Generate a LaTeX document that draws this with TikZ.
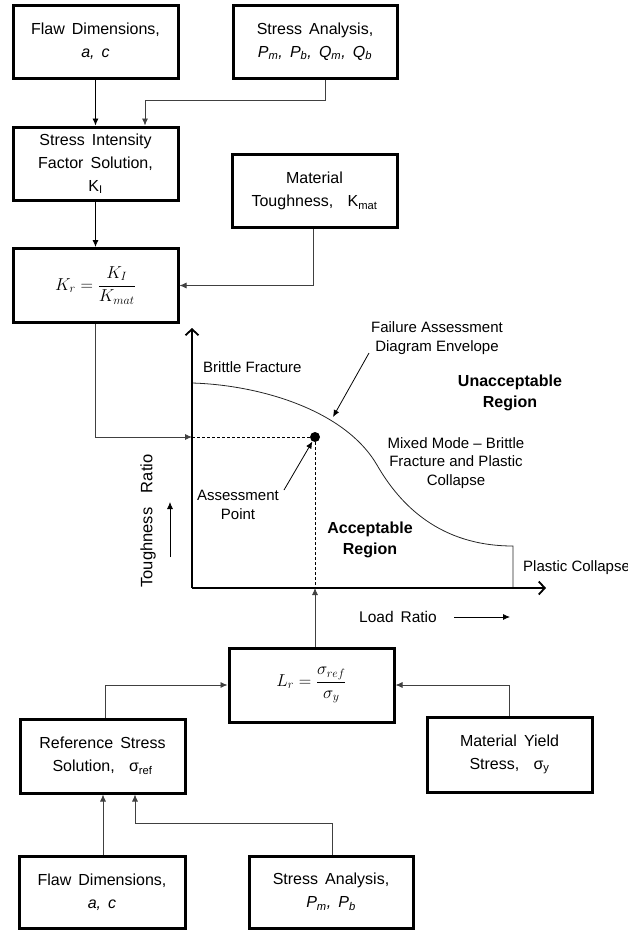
\documentclass[tikz,border=0pt]{standalone}
\usepackage{fontspec}
\setmainfont{Liberation Sans}
\newfontfamily\boxfont[WordSpace=1.6]{Liberation Sans}
\usetikzlibrary{arrows.meta}
\begin{document}
\begin{tikzpicture}[x=1pt,y=-1pt,
  box/.style={draw=black, line width=3pt, minimum width=165pt, minimum height=73pt, align=center, inner sep=2pt, font=\boxfont\fontsize{16}{23}\selectfont},
  mathbox/.style={box, font=\fontsize{17}{23}\selectfont},
  conn/.style={draw=black!75, line width=0.8pt, -{Latex[length=7pt,width=6pt]}},
  axisline/.style={line width=1.8pt, -{Straight Barb[length=6pt,width=13pt]}},
  lbl/.style={align=center, font=\fontsize{15}{18.5}\selectfont, inner sep=0pt},
  bl/.style={align=center, font=\bfseries\fontsize{16}{21}\selectfont, inner sep=0pt},
  dashln/.style={line width=0.7pt, densely dashed}
  ]
\path[use as bounding box] (0,0) rectangle (628,930);

% top boxes
\node[box] (fd1) at (95.5,41.5) {Flaw Dimensions,\\\textit{a, c}};
\node[box, minimum width=164pt] (sa1) at (315,41.5) {Stress Analysis,\\\textit{P\textsubscript{m}, P\textsubscript{b}, Q\textsubscript{m}, Q\textsubscript{b}}};
\node[box] (sif) at (95.5,163.5) {Stress Intensity\\Factor Solution,\\K\textsubscript{I}};
\node[box] (mt) at (314.5,191) {Material\\Toughness,\ \ K\textsubscript{mat}};
\node[mathbox, minimum height=74pt] (kr) at (95.5,285.5) {$\displaystyle K_r=\frac{K_I}{K_{mat}}$};

% bottom boxes
\node[mathbox, minimum height=74pt] (lr) at (311.5,685) {$\displaystyle L_r=\frac{\sigma_{ref}}{\sigma_y}$};
\node[box, minimum height=74pt] (rs) at (102.5,756) {Reference Stress\\Solution,\ \ σ\textsubscript{ref}};
\node[box, minimum height=75pt] (ys) at (509.5,754.5) {Material Yield\\Stress,\ \ σ\textsubscript{y}};
\node[box, minimum width=166pt, minimum height=72pt] (fd2) at (102,892) {Flaw Dimensions,\\\textit{a, c}};
\node[box, minimum width=164pt, minimum height=72pt] (sa2) at (331,892) {Stress Analysis,\\\textit{P\textsubscript{m}, P\textsubscript{b}}};

% graph coordinates
\coordinate (O) at (192,588);
\coordinate (ytop) at (192,328);
\coordinate (xend) at (546,588);
\coordinate (ka) at (192,437);
\coordinate (c0) at (192,383);
\coordinate (c1) at (377,465);
\coordinate (c2) at (513,546);
\coordinate (fadtip) at (333,417);
\coordinate (fadtail) at (369,353);
\coordinate (aptail) at (284,490);
\node[circle, fill=black, inner sep=0pt, minimum size=10pt] (dot) at (315,437) {};

% connectors top
\draw[conn, draw=black] (fd1) -- (sif);
\coordinate (j1) at (145,100);
\draw[conn] ([xshift=10pt]sa1.south) |- (j1) -- (j1 |- sif.north);
\draw[conn, draw=black] (sif) -- (kr);
\draw[conn] ([xshift=-1.5pt]mt.south) |- (kr.east);
\draw[conn] (kr.south) |- (ka);

% graph
\draw[dashln] (ka) -- (dot) -- (dot |- O);
\draw[line width=0.8pt, black!85] (c0) .. controls (260,385) and (345,410) .. (c1)
  .. controls (400,505) and (440,546) .. (c2) -- (c2 |- O);
\draw[axisline] (O) -- (ytop);
\draw[axisline] (O) -- (xend);

\node[lbl, anchor=west] (bf) at (203,367) {Brittle Fracture};
\node[lbl] (fad) at (437,338) {Failure Assessment\\Diagram Envelope};
\draw[conn, draw=black] (fadtail) -- (fadtip);
\node[bl] (ua) at (510,393) {Unacceptable\\Region};
\node[lbl] (mm) at (456,463) {Mixed Mode -- Brittle\\Fracture and Plastic\\Collapse};
\node[lbl] (ap) at (238,505) {Assessment\\Point};
\draw[conn, draw=black] (aptail) -- (dot);
\node[bl] (ac) at (370,540) {Acceptable\\Region};
\node[lbl, anchor=west] (pc) at (523,568) {Plastic Collapse};
\node[lbl, rotate=90, font=\boxfont\fontsize{16.5}{19}\selectfont] (tr) at (148,521) {Toughness\ \ Ratio};
\coordinate (ta0) at (170,557);
\coordinate (ta1) at (170,502);
\draw[conn, draw=black] (ta0) -- (ta1);
\node[lbl, font=\boxfont\fontsize{15.5}{19}\selectfont] (ldr) at (398,617) {Load Ratio};
\coordinate (la0) at (454,617);
\coordinate (la1) at (510,617);
\draw[conn, draw=black] (la0) -- (la1);

% connectors bottom
\draw[conn] (dot |- lr.north) -- (dot |- O);
\draw[conn] ([xshift=2.5pt]rs.north) |- (lr.west);
\draw[conn] (ys.north) |- (lr.east);
\draw[conn] ([xshift=1pt]fd2.north) -- ([xshift=1pt]fd2.north |- rs.south);
\coordinate (j2) at (135,823);
\draw[conn] ([xshift=1pt]sa2.north) |- (j2) -- (j2 |- rs.south);
\end{tikzpicture}
\end{document}
